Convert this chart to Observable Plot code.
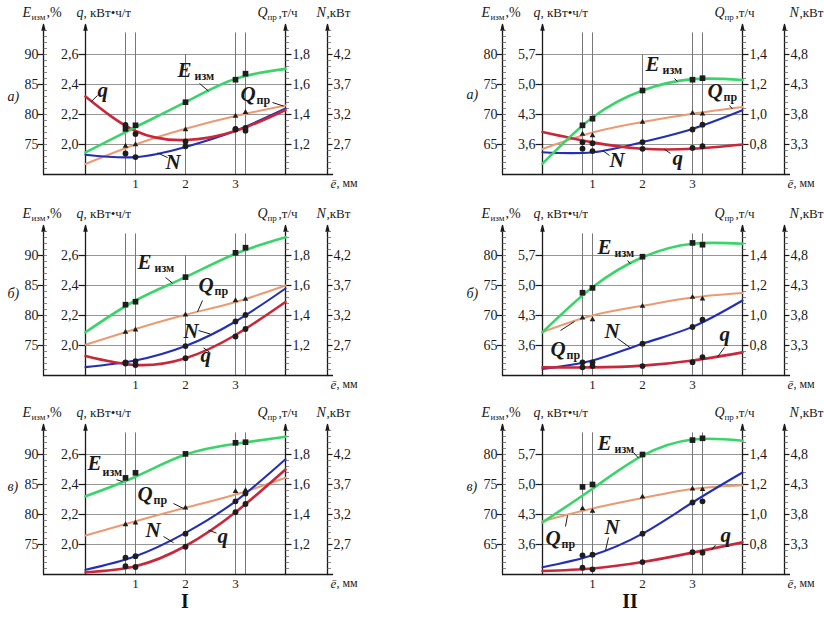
<!DOCTYPE html>
<html><head><meta charset="utf-8">
<script src="https://cdn.jsdelivr.net/npm/d3@7"></script>
<script src="https://cdn.jsdelivr.net/npm/@observablehq/plot@0.6"></script>
<style>
body{margin:0;background:#fff;}
#root{position:relative;width:824px;height:617px;overflow:hidden;font-family:"Liberation Serif",serif;}
.pn{position:absolute;width:412px;height:200px;}
.roman{position:absolute;font:bold 20px "Liberation Serif",serif;color:#111;transform:translate(-50%,-50%);}
</style></head><body><div id="root"></div>
<script>
// e, mm: measured points and curve nodes
const eMeasured = [0.8, 1, 2, 3, 3.2];
const eCurve = [0, 1, 2, 3, 4];

// tick labels, column I
const tickE_I = [75, 80, 85, 90];
const tickq_I = [2.0, 2.2, 2.4, 2.6];
const tickQ_I = [1.2, 1.4, 1.6, 1.8];
const tickN_I = [2.7, 3.2, 3.7, 4.2];
// tick labels, column II
const tickE_II = [65, 70, 75, 80];
const tickq_II = [3.6, 4.3, 5.0, 5.7];
const tickQ_II = [0.8, 1.0, 1.2, 1.4];
const tickN_II = [3.3, 3.8, 4.3, 4.8];

// I а)
const Ia_E_line = [73.7, 77.9, 82.05, 85.95, 87.6];
const Ia_E_pts  = [77.6, 78.2, 82.05, 85.8, 86.8];
const Ia_q_line = [2.32, 2.09, 2.03, 2.09, 2.23];
const Ia_q_pts  = [2.13, 2.07, 2.02, 2.10, 2.11];
const Ia_N_line = [2.53, 2.49, 2.66, 2.93, 3.30];
const Ia_N_pts  = [2.55, 2.49, 2.67, 2.96, 2.93];
const Ia_Q_line = [1.07, 1.20, 1.305, 1.39, 1.46];
const Ia_Q_pts  = [1.19, 1.20, 1.30, 1.39, 1.415];
// II а)
const IIa_E_line = [61.8, 69.5, 74.0, 75.9, 75.75];
const IIa_E_pts  = [68.2, 69.3, 74.0, 75.8, 76.05];
const IIa_q_line = [3.89, 3.65, 3.50, 3.50, 3.60];
const IIa_q_pts  = [3.65, 3.63, 3.50, 3.52, 3.56];
const IIa_N_line = [3.17, 3.17, 3.34, 3.56, 3.87];
const IIa_N_pts  = [3.23, 3.19, 3.34, 3.55, 3.63];
const IIa_Q_line = [0.77, 0.88, 0.95, 1.005, 1.05];
const IIa_Q_pts  = [0.87, 0.86, 0.95, 1.01, 1.005];
// I б)
const Ib_E_line = [77.2, 82.5, 86.4, 90.3, 93.05];
const Ib_E_pts  = [81.8, 82.3, 86.4, 90.45, 91.3];
const Ib_q_line = [1.93, 1.87, 1.915, 2.07, 2.29];
const Ib_q_pts  = [1.88, 1.87, 1.915, 2.06, 2.11];
const Ib_N_line = [2.34, 2.45, 2.69, 3.10, 3.65];
const Ib_N_pts  = [2.42, 2.44, 2.69, 3.10, 3.21];
const Ib_Q_line = [1.205, 1.31, 1.405, 1.49, 1.60];
const Ib_Q_pts  = [1.29, 1.305, 1.405, 1.50, 1.51];
// II б)
const IIb_E_line = [67.2, 74.7, 79.7, 81.95, 81.95];
const IIb_E_pts  = [73.8, 74.6, 79.8, 82.1, 81.8];
const IIb_q_line = [3.09, 3.09, 3.13, 3.25, 3.44];
const IIb_q_pts  = [3.09, 3.12, 3.12, 3.21, 3.33];
const IIb_N_line = [2.91, 3.05, 3.33, 3.61, 4.05];
const IIb_N_pts  = [3.02, 3.02, 3.33, 3.61, 3.73];
const IIb_Q_line = [0.89, 1.00, 1.065, 1.12, 1.15];
const IIb_Q_pts  = [0.985, 0.973, 1.062, 1.122, 1.111];
// I в)
const Iv_E_line = [83.05, 86.3, 90.0, 91.8, 92.95];
const Iv_E_pts  = [86.1, 86.95, 90.1, 91.95, 92.05];
const Iv_q_line = [1.815, 1.855, 1.99, 2.215, 2.50];
const Iv_q_pts  = [1.855, 1.85, 1.985, 2.215, 2.27];
const Iv_N_line = [2.28, 2.505, 2.895, 3.42, 4.12];
const Iv_N_pts  = [2.48, 2.505, 2.88, 3.42, 3.55];
const Iv_Q_line = [1.26, 1.355, 1.445, 1.533, 1.645];
const Iv_Q_pts  = [1.333, 1.345, 1.445, 1.555, 1.562];
// II в)
const IIv_E_line = [68.7, 74.3, 79.8, 82.5, 82.3];
const IIv_E_pts  = [74.6, 75.0, 80.0, 82.4, 82.7];
const IIv_q_line = [2.98, 3.04, 3.19, 3.41, 3.65];
const IIv_q_pts  = [3.06, 3.02, 3.19, 3.42, 3.41];
const IIv_N_line = [2.92, 3.12, 3.48, 4.00, 4.50];
const IIv_N_pts  = [3.12, 3.13, 3.48, 4.00, 4.02];
const IIv_Q_line = [0.955, 1.04, 1.11, 1.17, 1.195];
const IIv_Q_pts  = [1.04, 1.022, 1.118, 1.171, 1.167];

// curve labels: [series, label e, label y, leader e1, y1, e2, y2] (y in E-axis units)
const Ia_notes = [["E",1.84,86.33,2.28,85.17,2.46,83.9],["q",0.24,83.0,0.24,83.17,0.12,82.2],["N",1.6,71.0,1.64,72.83,1.44,73.6],["Q",3.1,82.33,3.74,82.0,3.96,81.4]];
const IIa_notes = [["E",2.06,77.17,2.64,76.0,2.7,75.5],["Q",3.3,72.67,3.74,71.5,3.8,70.9],["N",1.34,61.17,1.34,63.17,1.2,64.0],["q",2.6,61.6,2.56,63.5,2.44,64.2]];
const Ib_notes = [["E",1.04,87.67,1.6,86.33,1.74,85.4],["Q",2.26,84.0,2.34,82.5,2.24,80.6],["N",1.96,76.33,2.26,77.5,2.5,76.9],["q",2.3,72.17,2.48,73.9,2.36,74.6]];
const IIb_notes = [["E",1.1,80.33,1.7,79.17,1.76,78.6],["Q",0.16,63.17,0.36,67.5,0.64,69.0],["N",1.24,66.33,1.5,66.17,1.76,64.6],["q",3.54,65.67,3.64,64.67,3.5,63.1]];
const Iv_notes = [["E",0.04,87.5,0.62,85.8,0.74,85.5],["Q",1.04,82.33,1.76,81.83,1.96,81.0],["N",1.2,76.33,1.56,76.33,1.76,75.3],["q",2.64,75.33,2.62,76.9,2.46,77.4]];
const IIv_notes = [["E",1.1,80.83,1.82,80.33,1.92,79.4],["Q",0.06,65.0,0.46,68.0,0.5,69.83],["N",1.24,66.67,1.32,66.17,1.26,64.0],["q",3.56,65.4,3.46,64.9,3.38,64.1]];

const colors = {E:"#3ad46a", q:"#c8283a", N:"#2430b4", Q:"#eb9a72"};
const widths = {E:2.6, q:2.6, N:2.1, Q:2};
const symbols = {E:"square", q:"circle", N:"circle", Q:"triangle"};
const symR = {E:3.2, q:2.9, N:2.9, Q:2.1};

const cols = {
  I:  {x0:85,  left:0,   axisE:-0.84, axisN:4.84, Emin:70, qBase:1.8, qStep:0.2, QBase:1.0, QStep:0.2, NBase:2.2, NStep:0.5,
       tE:tickE_I, tq:tickq_I, tQ:tickQ_I, tN:tickN_I, nDx:-11},
  II: {x0:130, left:412, axisE:-0.8, axisN:4.84, Emin:60, qBase:2.9, qStep:0.7, QBase:0.6, QStep:0.2, NBase:2.8, NStep:0.5,
       tE:tickE_II, tq:tickq_II, tQ:tickQ_II, tN:tickN_II, nDx:5}
};

const panels = [
  {col:"I", top:0, letter:"а)", letterY:12.3, line:{E:Ia_E_line,q:Ia_q_line,N:Ia_N_line,Q:Ia_Q_line}, pts:{E:Ia_E_pts,q:Ia_q_pts,N:Ia_N_pts,Q:Ia_Q_pts}, notes:Ia_notes},
  {col:"II", top:0, letter:"а)", letterY:12.6, line:{E:IIa_E_line,q:IIa_q_line,N:IIa_N_line,Q:IIa_Q_line}, pts:{E:IIa_E_pts,q:IIa_q_pts,N:IIa_N_pts,Q:IIa_Q_pts}, notes:IIa_notes},
  {col:"I", top:201, letter:"б)", letterY:13, line:{E:Ib_E_line,q:Ib_q_line,N:Ib_N_line,Q:Ib_Q_line}, pts:{E:Ib_E_pts,q:Ib_q_pts,N:Ib_N_pts,Q:Ib_Q_pts}, notes:Ib_notes},
  {col:"II", top:201, letter:"б)", letterY:13, line:{E:IIb_E_line,q:IIb_q_line,N:IIb_N_line,Q:IIb_Q_line}, pts:{E:IIb_E_pts,q:IIb_q_pts,N:IIb_N_pts,Q:IIb_Q_pts}, notes:IIb_notes},
  {col:"I", top:400, letter:"в)", letterY:14, subE:[15,6], line:{E:Iv_E_line,q:Iv_q_line,N:Iv_N_line,Q:Iv_Q_line}, pts:{E:Iv_E_pts,q:Iv_q_pts,N:Iv_N_pts,Q:Iv_Q_pts}, notes:Iv_notes},
  {col:"II", top:400, letter:"в)", letterY:14, line:{E:IIv_E_line,q:IIv_q_line,N:IIv_N_line,Q:IIv_Q_line}, pts:{E:IIv_E_pts,q:IIv_q_pts,N:IIv_N_pts,Q:IIv_Q_pts}, notes:IIv_notes}
];

const fmt1 = v => v.toFixed(1).replace(".", ",");
const ink = "#1a1a1a";

function makePanel(p) {
  const c = cols[p.col];
  const Emin = c.Emin, top = Emin + 25;
  const toY = {
    E: v => v,
    q: v => Emin + (v - c.qBase) / c.qStep * 5,
    N: v => Emin + (v - c.NBase) / c.NStep * 5,
    Q: v => Emin + (v - c.QBase) / c.QStep * 5
  };
  const order = ["Q", "N", "q", "E"];
  const lineData = [], ptData = [];
  for (const s of order) {
    p.line[s].forEach((v, i) => lineData.push({s, e: eCurve[i], y: toY[s](v)}));
    p.pts[s].forEach((v, i) => ptData.push({s, e: eMeasured[i], y: toY[s](v)}));
  }
  const gridY = c.tE.map(v => v);
  const minor = d3.range(1, 25).map(k => Emin + k);
  const T = {fontFamily: "Liberation Serif", fill: ink, lineAnchor: "middle"};
  const marks = [];
  // grid
  marks.push(Plot.ruleY(gridY, {y: d => d, x1: 0, x2: 4, stroke: "#8a8a8a", strokeWidth: 0.9}));
  marks.push(Plot.ruleX(eMeasured, {x: d => d, y1: Emin, y2: d => d === 2 ? Emin + 20 : Emin + 23.6, stroke: "#777", strokeWidth: 1}));
  // axes
  const axesX = [c.axisE, 0, 4, c.axisN];
  marks.push(Plot.arrow(axesX, {x1: d => d, x2: d => d, y1: Emin, y2: top, stroke: ink, strokeWidth: 1.3, headLength: 7, headAngle: 28}));
  marks.push(Plot.ruleY([Emin], {y: d => d, x1: c.axisE, x2: c.axisN + 0.12, stroke: ink, strokeWidth: 1.3}));
  // minor ticks
  marks.push(Plot.ruleY(minor, {y: d => d, x1: c.axisE, x2: c.axisE + 0.08, stroke: "#555", strokeWidth: 0.7}));
  marks.push(Plot.ruleY(minor, {y: d => d, x1: 4, x2: 4.08, stroke: "#555", strokeWidth: 0.7}));
  marks.push(Plot.ruleY(minor, {y: d => d, x1: c.axisN, x2: c.axisN + 0.08, stroke: "#555", strokeWidth: 0.7}));
  // major ticks
  marks.push(Plot.ruleY(c.tE, {y: d => d, x1: c.axisE - 0.1, x2: c.axisE, stroke: ink, strokeWidth: 1.2}));
  marks.push(Plot.ruleY(c.tq, {y: toY.q, x1: -0.13, x2: 0, stroke: ink, strokeWidth: 1.2}));
  marks.push(Plot.ruleY(c.tQ, {y: toY.Q, x1: 4, x2: 4.13, stroke: ink, strokeWidth: 1.2}));
  marks.push(Plot.ruleY(c.tN, {y: toY.N, x1: c.axisN, x2: c.axisN + 0.11, stroke: ink, strokeWidth: 1.2}));
  // tick labels
  marks.push(Plot.text(c.tE, {...T, x: c.axisE, y: d => d, text: d => String(d), textAnchor: "end", dx: -5, fontSize: 14}));
  marks.push(Plot.text(c.tq, {...T, x: 0, y: toY.q, text: fmt1, textAnchor: "end", dx: -7, fontSize: 14}));
  marks.push(Plot.text(c.tQ, {...T, x: 4, y: toY.Q, text: fmt1, textAnchor: "start", dx: 7, fontSize: 14}));
  marks.push(Plot.text(c.tN, {...T, x: c.axisN, y: toY.N, text: fmt1, textAnchor: "start", dx: 6, fontSize: 14}));
  marks.push(Plot.text([1, 2, 3], {...T, x: d => d, y: Emin, text: d => String(d), dy: 9, fontSize: 13}));
  marks.push(Plot.text(["ē"], {...T, x: c.axisN, y: Emin, text: d => d, dx: 3, dy: 9, textAnchor: "start", fontStyle: "italic", fontSize: 13}));
  marks.push(Plot.text([", мм"], {...T, x: c.axisN, y: Emin, text: d => d, dx: 9, dy: 9, textAnchor: "start", fontSize: 12}));
  // headers
  const H = {...T, y: top, dy: -8, lineAnchor: "bottom", textAnchor: "start"};
  const hdr = [
    ["E", c.axisE, -21, 0, 14, true], ["изм", c.axisE, -12, 3, 9, false], [",%", c.axisE, 3, 0, 14, false],
    ["q", 0, -9, 0, 14, true], [", кВт•ч/т", 0, -2, 0, 13, false],
    ["Q", 4, -28, 0, 14, true], ["пр", 4, -18, 3, 9, false], [",т/ч", 4, -7, 0, 13, false],
    ["N", c.axisN, c.nDx, 0, 14, true], [",кВт", c.axisN, c.nDx + 10, 0, 13, false]
  ];
  for (const h of hdr) {
    marks.push(Plot.text([h[0]], {...H, x: h[1], text: d => d, dx: h[2], dy: -8 + h[3], fontSize: h[4], fontStyle: h[5] ? "italic" : "normal"}));
  }
  // panel letter
  marks.push(Plot.text([p.letter], {...T, x: c.axisE, y: Emin + p.letterY, text: d => d, dx: -36, textAnchor: "start", lineAnchor: "bottom", fontStyle: "italic", fontSize: 14}));
  // curves
  for (const s of order) {
    marks.push(Plot.line(lineData.filter(d => d.s === s), {x: "e", y: "y", curve: "natural", stroke: colors[s], strokeWidth: widths[s]}));
  }
  for (const s of order) {
    marks.push(Plot.dot(ptData.filter(d => d.s === s), {x: "e", y: "y", symbol: symbols[s], r: symR[s], fill: "#1d1d1d", stroke: "none"}));
  }
  // curve labels
  marks.push(Plot.link(p.notes, {x1: n => n[3], y1: n => n[4], x2: n => n[5], y2: n => n[6], stroke: ink, strokeWidth: 1}));
  for (const n of p.notes) {
    marks.push(Plot.text([n], {...T, x: n => n[1], y: n => n[2], text: n => n[0], textAnchor: "start", lineAnchor: "bottom", fontSize: 21, fontWeight: "bold", fontStyle: "italic"}));
    if (n[0] === "E" || n[0] === "Q") {
      const off = n[0] === "E" ? (p.subE || [17, 3]) : [16, 3];
      marks.push(Plot.text([n], {...T, x: n => n[1], y: n => n[2], text: n => n[0] === "E" ? "изм" : "пр", dx: off[0], dy: off[1], textAnchor: "start", lineAnchor: "bottom", fontSize: 12, fontWeight: "bold"}));
    }
  }
  return Plot.plot({
    width: 412, height: 200, margin: 0,
    x: {domain: [0, 4], range: [c.x0, c.x0 + 200], axis: null},
    y: {domain: [Emin, top], range: [174, 24], axis: null},
    style: {background: "transparent", overflow: "visible", fontFamily: "Liberation Serif"},
    marks
  });
}

const root = document.getElementById("root");
for (const p of panels) {
  const div = document.createElement("div");
  div.className = "pn";
  div.style.left = cols[p.col].left + "px";
  div.style.top = p.top + "px";
  div.appendChild(makePanel(p));
  root.appendChild(div);
}
for (const [t, x] of [["I", 185], ["II", 630]]) {
  const d = document.createElement("div");
  d.className = "roman";
  d.textContent = t;
  d.style.left = x + "px";
  d.style.top = "601px";
  root.appendChild(d);
}
</script></body></html>
